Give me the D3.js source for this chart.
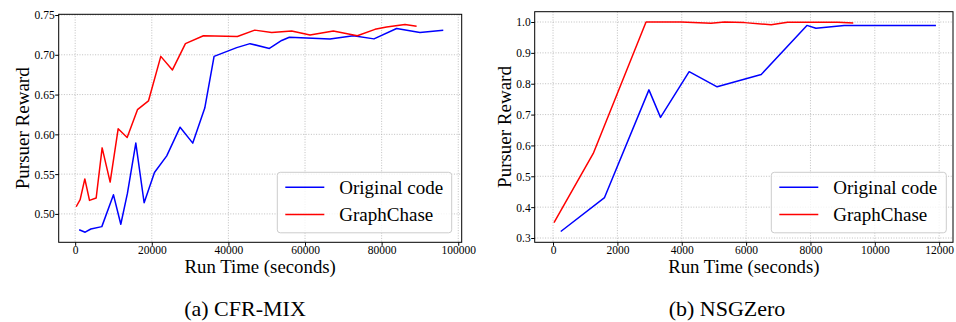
<!DOCTYPE html>
<html>
<head>
<meta charset="utf-8">
<script src="https://cdn.jsdelivr.net/npm/d3@7/dist/d3.min.js"></script>
<style>
  body { margin: 0; background: #fff; }
  svg { display: block; }
  svg text { font-family: "Liberation Serif", "Times New Roman", Times, "DejaVu Serif", serif; }
</style>
</head>
<body>
<div id="chart"></div>
<script>
// series names shared by both panels
const seriesNames = ['Original code', 'GraphChase'];
const seriesColors = ['#0000ff', '#ff0000'];

// (a) CFR-MIX: [run time (s), pursuer reward]
const cfrOriginal = [
  [1040, 0.480], [2610, 0.477], [4090, 0.481], [6960, 0.484], [10000, 0.524],
  [11910, 0.487], [13650, 0.526], [15830, 0.589], [18000, 0.514], [20700, 0.552],
  [23900, 0.573], [27390, 0.609], [30700, 0.589], [33830, 0.633], [36260, 0.698],
  [42170, 0.709], [45650, 0.714], [50700, 0.708], [53910, 0.718], [55910, 0.722],
  [66520, 0.720], [72610, 0.724], [78000, 0.720], [83910, 0.733], [90000, 0.728],
  [96090, 0.731]
];
const cfrGraphChase = [
  [260, 0.509], [1300, 0.518], [2520, 0.544], [3740, 0.517], [5480, 0.520],
  [7040, 0.583], [9130, 0.540], [11220, 0.607], [13570, 0.596], [16260, 0.631],
  [19130, 0.642], [22350, 0.698], [25390, 0.681], [28780, 0.714], [33480, 0.724],
  [42350, 0.723], [46870, 0.731], [51300, 0.728], [56520, 0.730], [61300, 0.725],
  [67390, 0.730], [73650, 0.724], [78260, 0.732], [81300, 0.735], [86090, 0.738],
  [89130, 0.736]
];
const cfrXTicks = [0, 20000, 40000, 60000, 80000, 100000];
const cfrYTicks = [0.50, 0.55, 0.60, 0.65, 0.70, 0.75];

// (b) NSGZero
const nsgOriginal = [
  [240, 0.321], [1600, 0.431], [2980, 0.780], [3340, 0.691], [4230, 0.839],
  [5100, 0.790], [6470, 0.830], [7890, 0.989], [8170, 0.980], [9050, 0.989],
  [11900, 0.989]
];
const nsgGraphChase = [
  [30, 0.350], [1250, 0.574], [2890, 1.000], [3980, 1.000], [4910, 0.996],
  [5330, 1.000], [5950, 0.998], [6780, 0.991], [7290, 0.999], [8850, 0.999],
  [9330, 0.997]
];
const nsgXTicks = [0, 2000, 4000, 6000, 8000, 10000, 12000];
const nsgYTicks = [0.3, 0.4, 0.5, 0.6, 0.7, 0.8, 0.9, 1.0];

const width = 956, height = 322;

const svg = d3.select('#chart').append('svg')
  .attr('width', width)
  .attr('height', height);

const panels = [
  {
    box: { left: 58.7, right: 461.7, top: 14.3, bottom: 242.3 },
    xDomain: [-4300, 100900], yDomain: [0.4643, 0.7509],
    xTicks: cfrXTicks, yTicks: cfrYTicks, yFormat: d3.format('.2f'),
    series: [cfrOriginal, cfrGraphChase],
    yLabelX: 28.5, caption: '(a) CFR-MIX', captionX: 245,
    legend: { x: 277.3, y: 172.3, w: 174.4, h: 60.5 }
  },
  {
    box: { left: 534.7, right: 953, top: 11.7, bottom: 242.3 },
    xDomain: [-570, 12430], yDomain: [0.2861, 1.0334],
    xTicks: nsgXTicks, yTicks: nsgYTicks, yFormat: d3.format('.1f'),
    series: [nsgOriginal, nsgGraphChase],
    yLabelX: 511, caption: '(b) NSGZero', captionX: 727,
    legend: { x: 771.3, y: 172.3, w: 175, h: 60.5 }
  }
];

panels.forEach(p => {
  const b = p.box;
  const x = d3.scaleLinear().domain(p.xDomain).range([b.left, b.right]);
  const y = d3.scaleLinear().domain(p.yDomain).range([b.bottom, b.top]);

  const g = svg.append('g');

  // dotted grid
  const grid = g.append('g')
    .attr('stroke', '#b0b0b0')
    .attr('stroke-width', 0.8)
    .attr('stroke-dasharray', '1,1.6');
  grid.selectAll('line.vx').data(p.xTicks).join('line')
    .attr('x1', d => x(d)).attr('x2', d => x(d))
    .attr('y1', b.top).attr('y2', b.bottom);
  grid.selectAll('line.hy').data(p.yTicks).join('line')
    .attr('class', 'hy')
    .attr('x1', b.left).attr('x2', b.right)
    .attr('y1', d => y(d)).attr('y2', d => y(d));

  // series lines
  const line = d3.line().x(d => x(d[0])).y(d => y(d[1]));
  g.selectAll('path.series').data(p.series).join('path')
    .attr('class', 'series')
    .attr('fill', 'none')
    .attr('stroke', (d, i) => seriesColors[i])
    .attr('stroke-width', 1.5)
    .attr('stroke-linejoin', 'round')
    .attr('d', line);

  // axes
  const xAxis = g.append('g')
    .attr('transform', `translate(0,${b.bottom})`)
    .call(d3.axisBottom(x).tickValues(p.xTicks).tickFormat(d3.format('d')).tickSize(3.5).tickSizeOuter(0));
  xAxis.attr('font-family', null);
  xAxis.select('.domain').remove();
  xAxis.selectAll('text').attr('y', 11.3).attr('dy', 0)
    .attr('font-size', 11.5).attr('fill', '#000');

  const yAxis = g.append('g')
    .attr('transform', `translate(${b.left},0)`)
    .call(d3.axisLeft(y).tickValues(p.yTicks).tickFormat(p.yFormat).tickSize(3.5).tickSizeOuter(0));
  yAxis.attr('font-family', null);
  yAxis.select('.domain').remove();
  yAxis.selectAll('text').attr('x', -4).attr('dy', '0.34em')
    .attr('font-size', 11.5).attr('fill', '#000');

  // frame
  g.append('rect')
    .attr('x', b.left).attr('y', b.top)
    .attr('width', b.right - b.left).attr('height', b.bottom - b.top)
    .attr('fill', 'none').attr('stroke', '#000').attr('stroke-width', 1);

  // axis labels
  g.append('text')
    .attr('x', (b.left + b.right) / 2).attr('y', 273)
    .attr('text-anchor', 'middle').attr('font-size', 18.8)
    .text('Run Time (seconds)');
  g.append('text')
    .attr('transform', `translate(${p.yLabelX},${(b.top + b.bottom) / 2}) rotate(-90)`)
    .attr('text-anchor', 'middle').attr('font-size', 19)
    .text('Pursuer Reward');

  // legend
  const L = p.legend;
  const lg = g.append('g');
  lg.append('rect')
    .attr('x', L.x).attr('y', L.y).attr('width', L.w).attr('height', L.h)
    .attr('rx', 3).attr('fill', '#fff').attr('fill-opacity', 0.8)
    .attr('stroke', '#cccccc').attr('stroke-width', 1);
  seriesNames.forEach((name, i) => {
    const yy = L.y + 15 + i * 27.3;
    lg.append('line')
      .attr('x1', L.x + 8).attr('x2', L.x + 47)
      .attr('y1', yy).attr('y2', yy)
      .attr('stroke', seriesColors[i]).attr('stroke-width', 1.5);
    lg.append('text')
      .attr('x', L.x + 62).attr('y', yy + 6.3)
      .attr('font-size', 19)
      .text(name);
  });

  // caption
  svg.append('text')
    .attr('x', p.captionX).attr('y', 316)
    .attr('text-anchor', 'middle').attr('font-size', 22)
    .text(p.caption);
});
</script>
</body>
</html>
